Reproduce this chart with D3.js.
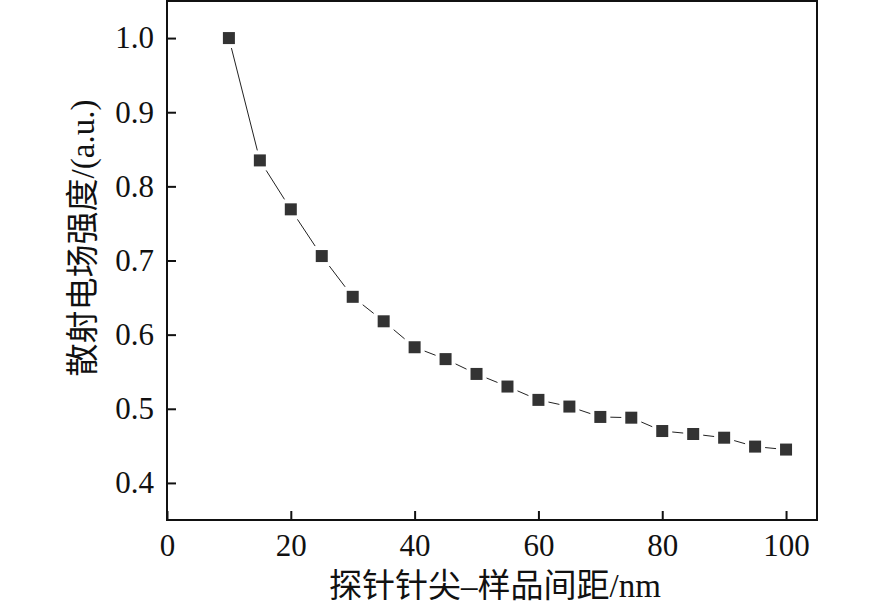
<!DOCTYPE html>
<html>
<head>
<meta charset="utf-8">
<script src="https://cdn.jsdelivr.net/npm/d3@7"></script>
<style>
  body { margin: 0; background: #fff; }
  text { font-family: "Times New Roman", "Liberation Serif", "DejaVu Serif", "Noto Sans CJK SC", serif; fill: #111; }
</style>
</head>
<body>
<svg id="drawing_region"></svg>
<script>
// distance (nm) and scattered field strength (a.u.)
const distances = [10, 15, 20, 25, 30, 35, 40, 45, 50, 55, 60, 65, 70, 75, 80, 85, 90, 95, 100];
const strengths = [1.000, 0.835, 0.769, 0.706, 0.651, 0.618, 0.583, 0.567, 0.547, 0.530, 0.512, 0.503, 0.489, 0.488, 0.470, 0.466, 0.461, 0.449, 0.445];
const xticks = [0, 20, 40, 60, 80, 100];
const yticks = [0.4, 0.5, 0.6, 0.7, 0.8, 0.9, 1.0];
const xtitle = "探针针尖–样品间距/nm";
const ytitle = "散射电场强度/(a.u.)";

const data = distances.map((d, i) => ({ x: d, y: strengths[i] }));

const width = 886, height = 608;
const margin = { top: 1, right: 69, bottom: 88, left: 167 };
const inner_width = width - margin.left - margin.right;
const inner_height = height - margin.top - margin.bottom;

const svg = d3.select('#drawing_region')
    .attr('width', width)
    .attr('height', height);

const chart = svg.append('g')
    .attr('transform', `translate(${margin.left}, ${margin.top})`);

const xscale = d3.scaleLinear().domain([0, 105]).range([0, inner_width]);
const yscale = d3.scaleLinear().domain([0.35, 1.05]).range([inner_height, 0]);

// axes, ticks pointing inward
const xaxis = d3.axisBottom(xscale).tickValues(xticks).tickFormat(d3.format('d'))
    .tickSizeInner(-9).tickSizeOuter(0).tickPadding(14);
const yaxis = d3.axisLeft(yscale).tickValues(yticks).tickFormat(d3.format('.1f'))
    .tickSizeInner(-9).tickSizeOuter(0).tickPadding(13);

const xg = chart.append('g')
    .attr('transform', `translate(0, ${inner_height})`)
    .call(xaxis);
const yg = chart.append('g').call(yaxis);

[xg, yg].forEach(g => {
    g.attr('font-family', null).attr('font-size', null);
    g.select('.domain').remove();
    g.selectAll('.tick line').attr('stroke', '#111').attr('stroke-width', 2);
    g.selectAll('.tick text').attr('font-size', 31).style('fill', '#111');
});
xg.selectAll('.tick text').attr('dy', '0.71em');

// frame
chart.append('rect')
    .attr('x', 0).attr('y', 0)
    .attr('width', inner_width).attr('height', inner_height)
    .attr('fill', 'none').attr('stroke', '#111').attr('stroke-width', 2);

// connecting line
const line = d3.line().x(d => xscale(d.x)).y(d => yscale(d.y));
chart.append('path')
    .datum(data)
    .attr('d', line)
    .attr('fill', 'none')
    .attr('stroke', '#222')
    .attr('stroke-width', 1);

// markers with white halo to leave gaps in the line
const s = 12, gap = 4;
chart.selectAll('rect.halo').data(data).enter()
    .append('rect').attr('class', 'halo')
    .attr('x', d => xscale(d.x) - s / 2 - gap)
    .attr('y', d => yscale(d.y) - s / 2 - gap)
    .attr('width', s + 2 * gap).attr('height', s + 2 * gap)
    .attr('fill', '#fff');
chart.selectAll('rect.mark').data(data).enter()
    .append('rect').attr('class', 'mark')
    .attr('x', d => xscale(d.x) - s / 2)
    .attr('y', d => yscale(d.y) - s / 2)
    .attr('width', s).attr('height', s)
    .attr('fill', '#333');

// axis titles
svg.append('text')
    .attr('x', margin.left + inner_width / 2 + 3)
    .attr('y', 597)
    .attr('text-anchor', 'middle')
    .attr('font-size', 33)
    .text(xtitle);

svg.append('text')
    .attr('transform', `translate(94, 238) rotate(-90)`)
    .attr('text-anchor', 'middle')
    .attr('font-size', 33)
    .text(ytitle);
</script>
</body>
</html>
